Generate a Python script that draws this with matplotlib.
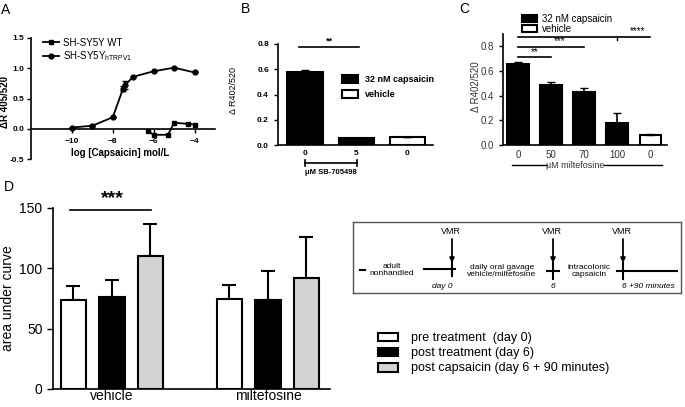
import numpy as np
import matplotlib.pyplot as plt
from matplotlib.patches import Patch
from matplotlib.lines import Line2D

plt.rcParams['font.family'] = ['Liberation Sans', 'DejaVu Sans']
plt.rcParams['mathtext.fontset'] = 'custom'
plt.rcParams['mathtext.rm'] = 'Liberation Sans'
plt.rcParams['axes.linewidth'] = 1.2

# ---- datos ----
# A: curva dosis-respuesta
log_conc_trpv1 = [-10, -9, -8, -7.5, -7.4, -7, -6, -5, -4]
resp_trpv1 = [0.02, 0.05, 0.19, 0.66, 0.72, 0.86, 0.95, 1.01, 0.93]
err_trpv1 = [0, 0, 0, 0.04, 0.07, 0, 0, 0, 0]
log_conc_wt = [-6.3, -6, -5.3, -5, -4.3, -4]
resp_wt = [-0.03, -0.10, -0.10, 0.10, 0.08, 0.07]

# B: SB-705498
b_labels = ['0', '5', '0']
b_values = [0.58, 0.055, 0.06]
b_err = [0.015, 0.004, 0.006]
b_capsaicin = [True, True, False]

# C: miltefosine in vitro
c_labels = ['0', '50', '70', '100', '0']
c_values = [0.66, 0.49, 0.43, 0.18, 0.08]
c_err = [0.012, 0.022, 0.035, 0.08, 0.01]
c_capsaicin = [True, True, True, True, False]

# D: area under curve
d_groups = ['vehicle', 'miltefosine']
d_series = ['pre treatment  (day 0)', 'post treatment (day 6)',
            'post capsaicin (day 6 + 90 minutes)']
d_colors = ['white', 'black', '#d3d3d3']
d_values = [[74, 76, 110], [75, 74, 92]]
d_err = [[11, 14, 27], [11, 24, 34]]

W, H = 685, 407
fig = plt.figure(figsize=(W / 100, H / 100), dpi=100)


def add_ax(x0, y0, x1, y1):
    return fig.add_axes([x0 / W, 1 - y1 / H, (x1 - x0) / W, (y1 - y0) / H])


def ftext(x, y, s, **kw):
    kw.setdefault('ha', 'center')
    kw.setdefault('va', 'center')
    return fig.text(x / W, 1 - y / H, s, **kw)


def fline(xs, ys, **kw):
    fig.add_artist(Line2D([x / W for x in xs], [1 - y / H for y in ys],
                          color='k', **kw))


def clean(ax):
    ax.spines['top'].set_visible(False)
    ax.spines['right'].set_visible(False)
    ax.tick_params(length=3, width=1)


# ------------------- A -------------------
axA = add_ax(31, 38, 215, 159)
clean(axA)
axA.plot(log_conc_wt, resp_wt, '-s', color='k', ms=3.5, lw=1.3)
axA.errorbar(log_conc_trpv1, resp_trpv1, yerr=err_trpv1, fmt='-o', color='k',
             ms=3.5, lw=1.3, capsize=2, elinewidth=1.2)
axA.set_xlim(-12, -3)
axA.set_ylim(-0.5, 1.5)
axA.spines['bottom'].set_position(('data', 0))
axA.set_xticks([-10, -8, -6, -4])
axA.set_yticks([-0.5, 0, 0.5, 1.0, 1.5])
axA.set_yticklabels(['-0.5', '0.0', '0.5', '1.0', '1.5'])
axA.tick_params(axis='y', pad=2)
for lab in axA.get_xticklabels() + axA.get_yticklabels():
    lab.set_fontsize(6)
    lab.set_fontweight('bold')
axA.legend(handles=[Line2D([], [], color='k', marker='s', ms=3.5, lw=1.3),
                    Line2D([], [], color='k', marker='o', ms=3.5, lw=1.3)],
           labels=['SH-SY5Y WT', 'SH-SY5Y$_{\\mathrm{hTRPV1}}$'],
           loc='upper left', bbox_to_anchor=(38 / W, 1 - 33 / H),
           bbox_transform=fig.transFigure, frameon=False, fontsize=7,
           borderpad=0, labelspacing=0.15, handlelength=1.7, handletextpad=0.4)
ftext(5, 102, 'ΔR 405/520', rotation=90, fontsize=7, fontweight='bold')
ftext(120, 153, 'log [Capsaicin] mol/L', fontsize=7, fontweight='bold')
ftext(6, 10, 'A', fontsize=10)

# ------------------- B -------------------
axB = add_ax(278, 44, 433, 145)
clean(axB)
xb = np.arange(len(b_values))
axB.bar(xb, b_values, width=0.69,
        color=['k' if c else 'w' for c in b_capsaicin], edgecolor='k', lw=1.5)
axB.errorbar(xb, b_values, yerr=[np.zeros(len(b_err)), b_err], fmt='none',
             ecolor='k', elinewidth=1.2, capsize=3)
axB.set_xlim(-0.53, 2.5)
axB.set_ylim(0, 0.8)
axB.set_xticks(xb)
axB.set_xticklabels(b_labels)
axB.set_yticks([0, 0.2, 0.4, 0.6, 0.8])
axB.set_yticklabels(['0.0', '0.2', '0.4', '0.6', '0.8'])
axB.tick_params(axis='x', length=0)
for lab in axB.get_xticklabels() + axB.get_yticklabels():
    lab.set_fontsize(6)
    lab.set_fontweight('bold')
axB.plot([-0.12, 1.05], [0.775, 0.775], color='k', lw=1.2, clip_on=False)
axB.text(0.47, 0.79, '**', ha='center', va='bottom', fontsize=6.5,
         fontweight='bold')
axB.legend(handles=[Patch(facecolor='k', edgecolor='k', lw=1.5),
                    Patch(facecolor='w', edgecolor='k', lw=1.5)],
           labels=['32 nM capsaicin', 'vehicle'],
           loc='upper left', bbox_to_anchor=(337 / W, 1 - 70 / H),
           bbox_transform=fig.transFigure, frameon=False,
           prop={'size': 6.5, 'weight': 'bold'}, borderpad=0,
           labelspacing=0.7, handlelength=1.8, handleheight=1.0)
ftext(233, 91, 'Δ R402/520', rotation=90, fontsize=6.5)
fline([305, 357], [163, 163], lw=1.2)
fline([305, 305], [160, 166], lw=1.2)
fline([357, 357], [160, 166], lw=1.2)
ftext(331, 173, 'μM SB-705498', fontsize=5.5, fontweight='bold')
ftext(246, 9, 'B', fontsize=10)

# ------------------- C -------------------
axC = add_ax(503, 34, 667, 145)
clean(axC)
xc = np.arange(len(c_values))
axC.bar(xc, c_values, width=0.66,
        color=['k' if c else 'w' for c in c_capsaicin], edgecolor='k', lw=1.5)
axC.errorbar(xc, c_values, yerr=[np.zeros(len(c_err)), c_err], fmt='none',
             ecolor='k', elinewidth=1.2, capsize=3)
axC.set_xlim(-0.45, 4.5)
axC.set_ylim(0, 0.9)
axC.set_xticks(xc)
axC.set_xticklabels(c_labels)
axC.set_yticks([0, 0.2, 0.4, 0.6, 0.8])
axC.set_yticklabels(['0.0', '0.2', '0.4', '0.6', '0.8'])
axC.tick_params(axis='x', length=0)
axC.tick_params(labelsize=7, labelcolor='#333333')
axC.plot([0, 1], [0.71, 0.71], color='k', lw=1.2)
axC.text(0.5, 0.715, '**', ha='center', va='bottom', fontsize=7)
axC.plot([0, 2], [0.795, 0.795], color='k', lw=1.2)
axC.text(1.25, 0.80, '***', ha='center', va='bottom', fontsize=7)
axC.plot([0, 4], [0.875, 0.875], color='k', lw=1.2, clip_on=False)
axC.plot([3, 3], [0.875, 0.855], color='k', lw=1.0)
axC.text(3.6, 0.88, '****', ha='center', va='bottom', fontsize=7,
         clip_on=False)
axC.legend(handles=[Patch(facecolor='k', edgecolor='k', lw=1.5),
                    Patch(facecolor='w', edgecolor='k', lw=1.5)],
           labels=['32 nM capsaicin', 'vehicle'],
           loc='upper left', bbox_to_anchor=(517 / W, 1 - 9 / H),
           bbox_transform=fig.transFigure, frameon=False, fontsize=7,
           borderpad=0, labelspacing=0.0, handlelength=1.6,
           handleheight=0.6, handletextpad=0.5)
ftext(476, 87, 'Δ R402/520', rotation=90, fontsize=7, color='#333333')
fline([512, 547], [165, 165], lw=1.0)
fline([604, 662], [165, 165], lw=1.0)
ftext(575, 165, 'μM miltefosine', fontsize=6.5, color='#333333')
ftext(464, 9, 'C', fontsize=10)

# ------------------- D -------------------
axD = add_ax(53, 208, 330, 389)
clean(axD)
group_pos = np.array([0, 4.05])
offsets = [-1, 0, 1]
for i, name in enumerate(d_series):
    vals = [d_values[g][i] for g in range(len(d_groups))]
    errs = [d_err[g][i] for g in range(len(d_groups))]
    xs = group_pos + offsets[i]
    axD.bar(xs, vals, width=0.66, color=d_colors[i], edgecolor='k', lw=1.5,
            label=name, zorder=2)
    axD.errorbar(xs, vals, yerr=[np.zeros(len(errs)), errs], fmt='none',
                 ecolor='k', elinewidth=1.5, capsize=5, capthick=1.5,
                 zorder=1)
axD.set_xlim(-1.53, 5.66)
axD.set_ylim(0, 150)
axD.set_yticks([0, 50, 100, 150])
axD.set_xticks(group_pos)
axD.set_xticklabels(d_groups)
axD.tick_params(labelsize=10, length=4)
axD.tick_params(axis='x', length=0, pad=0)
axD.set_ylabel('area under curve', fontsize=10, labelpad=3)
axD.plot([-1.09, 1.01], [148, 148], color='k', lw=1.2, clip_on=False)
axD.text(0, 151, '***', ha='center', va='bottom', fontsize=14,
         fontweight='bold')
handles, labels = axD.get_legend_handles_labels()
fig.legend(handles, labels, loc='upper left',
           bbox_to_anchor=(372 / W, 1 - 326 / H), frameon=False, fontsize=9,
           borderpad=0, labelspacing=0.25, handlelength=1.6,
           handleheight=0.7, handletextpad=1.0)
ftext(9, 187, 'D', fontsize=10)

# esquema experimental
axS = add_ax(353, 222, 681, 293)
axS.set_xlim(353, 681)
axS.set_ylim(293, 222)
axS.set_xticks([])
axS.set_yticks([])
for sp in axS.spines.values():
    sp.set_color('#555555')
    sp.set_linewidth(1.0)
sk = dict(color='k', lw=1.5)
axS.plot([360, 365], [270, 270], **sk)
axS.text(392, 270, 'adult\nnonhandled', ha='center', va='center',
         fontsize=6, linespacing=1.1)
axS.plot([424, 455], [269, 269], **sk)
axS.plot([452, 452], [262, 276], **sk)
axS.text(502, 271, 'daily oral gavage\nvehicle/miltefosine', ha='center',
         va='center', fontsize=6, linespacing=1.1)
axS.plot([547, 559], [271, 271], **sk)
axS.plot([553, 553], [263, 279], **sk)
axS.text(589, 271, 'intracolonic\ncapsaicin', ha='center', va='center',
         fontsize=6, linespacing=1.1)
axS.plot([617, 677], [271, 271], **sk)
axS.plot([623, 623], [263, 279], **sk)
for xv in [452, 553, 623]:
    axS.text(xv - 1, 232, 'VMR', ha='center', va='center', fontsize=6.5)
    axS.annotate('', xy=(xv, 263), xytext=(xv, 239),
                 arrowprops=dict(arrowstyle='-|>', color='k', lw=1.3,
                                 mutation_scale=7, shrinkA=0, shrinkB=0))
axS.text(442, 287, 'day 0', ha='center', va='center', fontsize=6,
         style='italic')
axS.text(553, 287, '6', ha='center', va='center', fontsize=6, style='italic')
axS.text(648, 287, '6 +90 minutes', ha='center', va='center', fontsize=6,
         style='italic')

fig.savefig('out.png', dpi=100)
